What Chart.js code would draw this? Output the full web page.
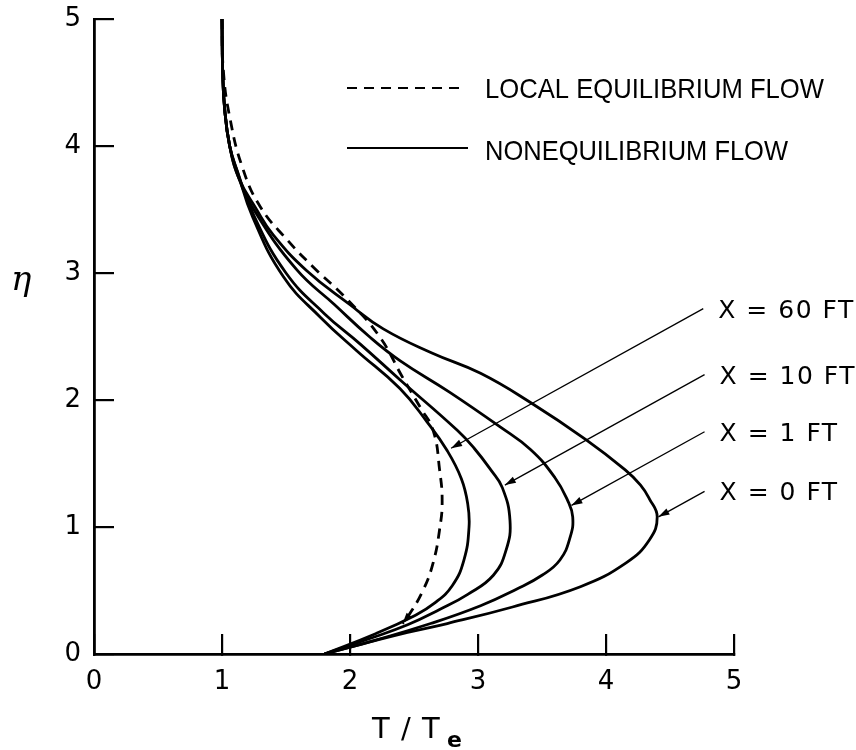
<!DOCTYPE html>
<html><head><meta charset="utf-8">
<script src="https://cdn.jsdelivr.net/npm/chart.js@4.4.1/dist/chart.umd.min.js"></script>
<style>html,body{margin:0;padding:0;background:#fff;}canvas{display:block;}</style>
</head><body>
<canvas id="c" width="856" height="750"></canvas>
<script>
// ---- data (T/Te, eta) ----
const tickValues = [0, 1, 2, 3, 4, 5];
const seriesNames = ["LOCAL EQUILIBRIUM FLOW", "X = 0 FT", "X = 1 FT", "X = 10 FT", "X = 60 FT"];

const eqT    = [1.00,1.01,1.06,1.16,1.30,1.51,1.71,1.98,2.23,2.41,2.55,2.65,2.70,2.72,2.70,2.65,2.57,2.45,2.41];
const eqEta  = [5.00,4.60,4.23,3.83,3.52,3.26,3.05,2.79,2.50,2.18,1.94,1.76,1.45,1.20,0.98,0.72,0.50,0.29,0.24];

const x0T    = [1.00,1.005,1.02,1.06,1.13,1.27,1.40,1.66,2.00,2.26,2.64,3.02,3.41,3.84,4.15,4.27,4.34,4.40,4.34,4.16,3.80,3.27,2.76,2.45,2.10,1.80];
const x0Eta  = [5.00,4.60,4.30,4.00,3.75,3.50,3.30,3.02,2.75,2.56,2.37,2.21,1.98,1.69,1.45,1.33,1.22,1.08,0.90,0.72,0.53,0.37,0.24,0.17,0.08,0.00];

const x1T    = [1.00,1.005,1.02,1.06,1.13,1.26,1.58,1.88,2.15,2.39,2.78,3.17,3.41,3.60,3.70,3.74,3.72,3.64,3.50,3.30,3.02,2.63,2.20,1.80];
const x1Eta  = [5.00,4.60,4.30,4.00,3.75,3.48,3.03,2.75,2.50,2.31,2.06,1.79,1.61,1.39,1.21,1.08,0.92,0.74,0.62,0.51,0.38,0.24,0.11,0.00];

const x10T   = [1.00,1.005,1.02,1.06,1.12,1.25,1.50,1.80,2.08,2.39,2.84,2.97,3.10,3.19,3.25,3.22,3.12,2.92,2.70,2.45,2.15,1.80];
const x10Eta = [5.00,4.60,4.30,4.00,3.80,3.45,3.00,2.68,2.44,2.16,1.76,1.62,1.45,1.31,1.05,0.82,0.62,0.47,0.35,0.23,0.12,0.00];

const x60T   = [1.00,1.005,1.02,1.06,1.12,1.24,1.48,1.77,2.05,2.39,2.60,2.76,2.87,2.92,2.93,2.89,2.80,2.66,2.50,2.20,1.80];
const x60Eta = [5.00,4.60,4.30,4.00,3.80,3.44,2.97,2.65,2.39,2.09,1.83,1.60,1.38,1.18,1.00,0.74,0.54,0.40,0.30,0.16,0.00];

// leader labels: label anchor (T, eta) -> arrow tip on curve (T, eta)
const leaderText = ["X = 60 FT", "X = 10 FT", "X = 1 FT", "X = 0 FT"];
const leaderFrom = [[4.76,2.72],[4.77,2.20],[4.77,1.75],[4.77,1.28]];
const leaderTo   = [[2.79,1.62],[3.21,1.33],[3.73,1.17],[4.41,1.08]];

const zip = (a, b) => a.map((v, i) => ({x: v, y: b[i]}));

function arrowHead(ctx, x1, y1, x2, y2, len, hw) {
  const a = Math.atan2(y2 - y1, x2 - x1);
  ctx.beginPath();
  ctx.moveTo(x2, y2);
  ctx.lineTo(x2 - len*Math.cos(a) + hw*Math.sin(a), y2 - len*Math.sin(a) - hw*Math.cos(a));
  ctx.lineTo(x2 - len*Math.cos(a) - hw*Math.sin(a), y2 - len*Math.sin(a) + hw*Math.cos(a));
  ctx.closePath();
  ctx.fill();
}
function fitText(ctx, text, x, y, w) {
  const m = ctx.measureText(text).width;
  ctx.save(); ctx.translate(x, y); ctx.scale(w / m, 1); ctx.fillText(text, 0, 0); ctx.restore();
}

const overlay = {
  id: 'overlay',
  afterDatasetsDraw(chart) {
    const {ctx, scales: {x, y}} = chart;
    ctx.save();
    ctx.fillStyle = '#000'; ctx.strokeStyle = '#000';
    leaderText.forEach((t, i) => {
      const x1 = x.getPixelForValue(leaderFrom[i][0]), y1 = y.getPixelForValue(leaderFrom[i][1]);
      const x2 = x.getPixelForValue(leaderTo[i][0]),   y2 = y.getPixelForValue(leaderTo[i][1]);
      ctx.lineWidth = 1.3; ctx.setLineDash([]);
      ctx.beginPath(); ctx.moveTo(x1, y1); ctx.lineTo(x2, y2); ctx.stroke();
      arrowHead(ctx, x1, y1, x2, y2, 11, 3.5);
      ctx.font = '25px "DejaVu Sans"';
      ctx.letterSpacing = '1.5px';
      ctx.textAlign = 'left'; ctx.textBaseline = 'alphabetic';
      ctx.fillText(t, x1 + 15, y1 + 9);
      ctx.letterSpacing = '0px';
    });
    const n = eqT.length;
    arrowHead(ctx, x.getPixelForValue(eqT[n-2]), y.getPixelForValue(eqEta[n-2]),
                   x.getPixelForValue(eqT[n-1]), y.getPixelForValue(eqEta[n-1]), 11, 3.5);
    // legend
    ctx.lineWidth = 2.2;
    ctx.setLineDash([10, 7]);
    ctx.beginPath(); ctx.moveTo(347, 88); ctx.lineTo(466, 88); ctx.stroke();
    ctx.setLineDash([]);
    ctx.beginPath(); ctx.moveTo(347, 148); ctx.lineTo(468, 148); ctx.stroke();
    ctx.font = '28px "Liberation Sans"';
    ctx.textAlign = 'left'; ctx.textBaseline = 'alphabetic';
    fitText(ctx, seriesNames[0], 485, 98, 339);
    fitText(ctx, "NONEQUILIBRIUM FLOW", 485, 160, 303);
    // axis titles
    ctx.font = 'italic 34px "DejaVu Serif"';
    ctx.fillText('η', 11, 290);
    ctx.font = '29px "DejaVu Sans"';
    ctx.letterSpacing = '1px';
    ctx.fillText('T / T', 372, 738);
    ctx.letterSpacing = '0px';
    ctx.font = 'bold 22px "DejaVu Sans"';
    ctx.fillText('e', 447, 747);
    ctx.restore();
  }
};

const lineDs = (label, T, E, dash) => ({
  label, data: zip(T, E), showLine: true, borderColor: '#000', backgroundColor: '#000',
  borderWidth: 2.8, borderDash: dash || [], pointRadius: 0, tension: 0.45, fill: false
});

const noPad = s => { s.paddingTop = 0; s.paddingBottom = 0; s.paddingLeft = 0; s.paddingRight = 0; };

new Chart(document.getElementById('c'), {
  type: 'scatter',
  data: {
    datasets: [
      lineDs(seriesNames[0], eqT, eqEta, [10, 7]),
      lineDs(seriesNames[1], x0T, x0Eta),
      lineDs(seriesNames[2], x1T, x1Eta),
      lineDs(seriesNames[3], x10T, x10Eta),
      lineDs(seriesNames[4], x60T, x60Eta)
    ]
  },
  options: {
    responsive: false, animation: false, devicePixelRatio: 1,
    layout: {padding: {top: 19, right: 122, left: 0, bottom: 0}},
    plugins: {legend: {display: false}, tooltip: {enabled: false}},
    scales: {
      x: {
        type: 'linear', min: 0, max: 5,
        afterBuildTicks: s => { s.ticks = tickValues.map(v => ({value: v})); },
        afterFit: s => { s.height = 96; noPad(s); },
        border: {display: true, color: '#000', width: 2.8},
        grid: {drawOnChartArea: false, drawTicks: true, tickLength: -20, color: '#000', lineWidth: 2.2},
        ticks: {color: '#000', padding: 33, font: {family: 'DejaVu Sans', size: 26}}
      },
      y: {
        type: 'linear', min: 0, max: 5,
        afterBuildTicks: s => { s.ticks = tickValues.map(v => ({value: v})); },
        afterFit: s => { s.width = 94; noPad(s); },
        border: {display: true, color: '#000', width: 2.8},
        grid: {drawOnChartArea: false, drawTicks: true, tickLength: -20, color: '#000', lineWidth: 2.2},
        ticks: {color: '#000', padding: 33, font: {family: 'DejaVu Sans', size: 26}}
      }
    }
  },
  plugins: [overlay]
});
</script>
</body></html>
